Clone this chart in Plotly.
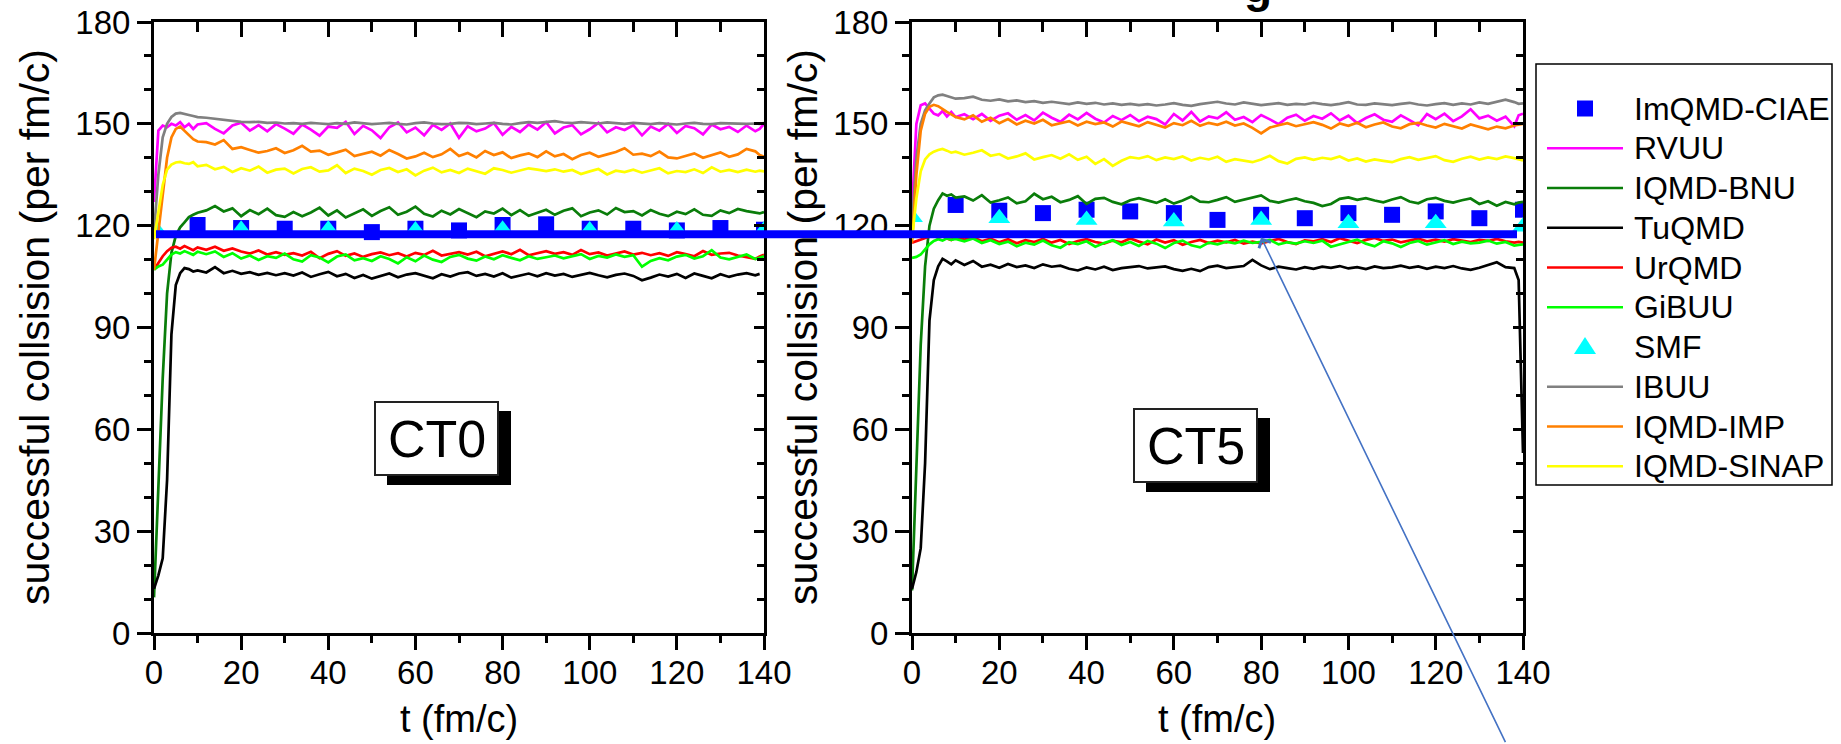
import plotly.graph_objects as go

W, H = 1841, 744
FONT = "Liberation Sans, Arial, sans-serif"

# time grid (fm/c)
t = list(range(0, 11)) + list(range(12, 139, 2)) + [139, 140]

# ---------------- CT0 ----------------
ct0_rvuu = [127, 148, 149.5, 149, 150, 149.5, 150.5, 149, 150, 148.5, 149.8,
            150.2, 148.5, 147.2, 149.5, 150.3, 148.0, 149.6, 147.8, 149.9, 148.6,
            147.1, 149.8, 148.3, 146.5, 149.2, 148.8, 150.6, 147.0, 149.4, 148.1,
            145.8, 149.0, 150.4, 147.5, 148.9, 146.6, 149.7, 148.2, 150.1, 145.9,
            149.3, 147.8, 148.6, 150.2, 146.8, 149.1, 147.6, 149.8, 148.3, 150.5,
            147.2, 148.9, 149.6, 146.9, 148.4, 150.3, 147.5, 149.0, 148.2, 149.6,
            146.6, 149.2, 148.0, 150.0, 147.3, 149.4, 148.7, 146.9, 149.8, 148.4,
            149.1, 147.6, 149.5, 147.8,
            148.5, 150.0]
ct0_bnu = [10.5, 45, 75, 100, 112, 117, 119.5, 121, 122.5, 123.2, 123.8,
           124.5, 125.8, 124.2, 125.1, 122.8, 124.6, 123.4, 125.0, 123.1, 122.6,
           124.0, 122.8, 123.9, 125.3, 123.0, 124.5, 122.4, 123.7, 124.8, 122.9,
           124.3, 125.4, 123.2, 124.1, 125.6, 123.5, 122.7, 124.4, 123.3, 124.9,
           123.8, 122.5, 124.2, 123.6, 125.0, 123.1, 124.6, 122.9, 123.8, 124.7,
           123.2, 124.4, 125.1, 122.8, 123.9, 124.5, 123.3, 125.2, 124.0, 124.3,
           123.0, 124.6, 123.5, 122.8, 124.1, 123.4, 124.8, 123.2, 122.9, 124.5,
           123.7, 124.9, 124.3, 123.8,
           123.6, 124.0]
ct0_tuqmd = [13, 17, 22, 45, 88, 102.5, 106, 107.5, 107.2, 106.5, 106.8,
             106.2, 107.8, 106.0, 106.7, 105.8, 106.3, 105.5, 106.1, 105.4, 106.0,
             105.3, 106.2, 104.9, 105.7, 106.4, 105.1, 105.8, 104.6, 105.5, 104.4,
             105.2, 105.9, 104.8, 105.6, 106.0, 105.3, 104.5, 105.7, 105.0, 105.9,
             106.3, 105.2, 105.8, 105.0, 106.0, 104.7, 105.4, 105.9, 105.1, 106.0,
             105.3, 105.8, 104.9, 105.6, 106.1, 105.4, 104.8, 105.5, 105.9, 105.2,
             103.9, 104.7, 105.6, 105.0, 105.8, 104.6, 105.9, 105.2, 104.5, 105.7,
             104.9, 105.6, 106.0, 105.4,
             105.8, None]
ct0_urqmd = [107, 109, 111, 112.5, 113.5, 113.8, 113.2, 114.0, 113.5, 112.8, 113.6,
             112.9, 113.8, 112.6, 113.3, 112.4, 111.8, 112.7, 111.5, 112.2, 111.4,
             111.9, 111.2, 112.3, 110.4, 111.7, 112.5, 111.1, 111.8, 110.8, 111.6,
             112.1, 111.3, 111.9, 110.9, 112.0, 111.4, 112.6, 111.2, 111.7, 112.2,
             111.5, 112.3, 111.0, 111.8, 112.4, 111.6, 112.9, 111.3, 111.9, 112.5,
             111.7, 112.2, 111.4, 112.8, 111.6, 112.1, 111.2, 111.8, 112.4, 111.5,
             112.0, 111.3, 111.9, 111.1, 112.2, 111.6, 111.0, 112.5, 111.4, 111.8,
             112.0, 111.2, 110.6, 110.2,
             110.9, 111.4]
ct0_gibuu = [107, 108, 108.5, 110, 111.5, 112.2, 111.8, 112.5, 112.0, 111.4, 112.3,
             111.6, 112.4, 110.8, 111.9, 110.3, 111.2, 109.9, 111.0, 110.5, 111.8,
             110.1, 109.4, 111.3, 110.6, 109.2, 110.9, 111.5, 109.8, 110.4, 109.6,
             111.0, 110.2, 108.9, 110.7, 109.5, 111.2, 110.0, 109.3, 110.8, 111.4,
             110.3, 109.7, 110.9, 110.1, 111.3, 110.5, 109.8, 111.0, 110.2, 110.7,
             111.2, 110.4, 110.9, 111.6, 110.2, 111.1, 110.6, 111.5, 110.8, 111.3,
             107.9, 109.6, 110.4, 109.8, 110.9, 111.4, 110.3, 111.0, 112.8, 110.6,
             110.1, 110.8, 111.5, 110.2,
             110.6, 111.0]
ct0_ibuu = [118, 135, 146, 150, 152, 153, 153.2, 153, 152.6, 152.3, 152,
            151.8, 151.5, 151.2, 150.8, 150.6, 150.5, 150.6, 150.3, 150.4, 150.1,
            150.2, 150.0, 150.3, 150.1, 149.9, 150.2, 150.0, 150.4, 150.1, 149.9,
            150.1, 150.3, 150.0, 149.8, 150.2, 150.4, 150.1, 149.9, 150.0, 150.3,
            150.2, 149.9, 150.1, 150.3, 150.0, 149.8, 150.2, 150.5, 150.3, 150.6,
            150.8, 150.4, 150.2, 150.5, 150.3, 150.1, 150.4, 150.2, 150.0, 150.3,
            150.1, 149.9, 150.2, 150.0, 149.8, 150.1, 150.3, 150.0, 149.9, 150.2,
            150.1, 149.9, 150.0, 150.1,
            150.0, 150.2]
ct0_imp = [107, 118, 130, 140, 146, 148.5, 149.2, 148, 146.5, 145.5, 144.8,
           144.6, 143.9, 145.2, 142.6, 143.1, 142.3, 141.5, 142.0, 142.8, 141.4,
           142.2, 143.5, 141.8, 142.1, 140.9, 141.6, 142.4, 140.5, 141.2, 141.8,
           140.6, 142.3, 141.1, 139.8, 140.4, 141.5, 140.2, 141.0, 142.6, 140.5,
           141.4, 140.1, 142.0, 140.8, 141.6, 139.9, 140.7, 141.3, 140.2, 141.9,
           140.4, 141.1, 139.6, 140.8, 141.5, 140.3, 141.0, 141.7, 142.8, 140.9,
           141.2, 140.5, 141.8, 140.1, 139.8, 140.6, 141.3, 140.0, 140.9, 141.6,
           140.3, 141.0, 142.6, 141.9,
           140.8, 140.3]
ct0_sinap = [116, 124, 132, 136.5, 138, 138.6, 138.8, 138.4, 138.2, 138.7, 137.5,
             137.9, 136.6, 137.3, 135.8, 136.9, 136.2, 137.4, 135.6, 136.5, 136.8,
             135.4, 136.7, 137.2, 135.9, 136.3, 137.8, 135.5, 136.8, 136.1, 135.0,
             136.4, 137.0, 135.8, 136.6, 134.8, 136.2, 137.1, 135.7, 136.4, 135.5,
             136.8, 136.0, 135.3, 136.9, 136.4, 135.6, 136.3, 136.9, 136.5, 136.1,
             136.6, 135.9, 136.4, 135.2, 136.0, 136.7, 135.1, 136.2, 135.8, 136.5,
             135.6, 136.3, 136.9, 135.4, 136.1, 135.8, 136.6, 135.5, 137.2, 135.9,
             136.4, 135.8, 136.5, 135.9,
             136.2, 136.0]

# ---------------- CT5 ----------------
ct5_rvuu = [125, 150, 155.5, 156, 154.5, 153, 152.5, 153.8, 152.2, 153.5, 152.0,
            152.8, 151.4, 152.9, 150.9, 152.4, 153.1, 151.2, 152.6, 151.0, 153.3,
            151.8, 150.6, 152.7, 151.3, 153.2, 151.5, 150.4, 152.3, 151.1, 152.6,
            150.8, 152.1, 151.4, 149.8, 152.9, 151.0, 153.5, 150.7, 152.2, 151.6,
            153.4, 151.2, 152.0, 150.5, 152.6, 151.3, 149.9, 151.8, 152.7, 150.9,
            152.3, 151.5, 153.1, 151.0, 152.4, 150.2, 151.7, 152.8, 151.2, 150.6,
            152.5, 151.1, 149.6, 152.9, 151.4, 153.0, 150.8, 152.2, 154.3, 151.6,
            152.4, 150.9, 152.1, 149.3,
            152.5, 153.0]
ct5_bnu = [12.5, 50, 85, 108, 120, 125, 127.5, 129.5, 128.8, 129.2, 128.3,
           128.6, 127.4, 129.0, 126.8, 127.5, 128.3, 126.6, 127.2, 129.4, 127.8,
           128.5, 126.9, 127.6, 128.7, 126.4, 127.9, 128.2, 127.0, 126.3, 127.5,
           128.1, 127.3, 126.7, 127.8, 126.5, 127.4, 128.6, 127.1, 126.9, 127.6,
           128.4, 127.0, 127.7, 128.2, 128.9, 127.3, 126.8, 127.5, 128.0, 127.2,
           126.7, 125.8, 126.4, 127.9, 128.3, 127.6, 128.1, 127.4, 126.9, 127.7,
           128.4, 127.1, 126.6, 127.8, 128.2, 127.3, 126.8, 127.5, 128.0, 126.4,
           127.2, 125.9, 127.0, 126.3,
           126.8, 127.0]
ct5_tuqmd = [13, 18, 25, 50, 92, 104, 108, 110.2, 109.5, 108.6, 109.8,
             108.4, 109.6, 107.9, 108.5, 107.6, 108.7, 107.8, 108.3, 107.5, 108.6,
             107.9, 108.2, 107.3, 106.8, 107.7, 107.1, 107.9, 106.9, 107.5, 107.8,
             108.1, 107.4, 107.6, 108.0, 107.2, 106.7, 107.3, 106.6, 107.8, 108.2,
             107.5, 107.9, 108.1, 109.9, 108.3, 107.2, 107.9, 107.5, 107.1, 107.8,
             107.3, 107.9, 107.6, 108.1, 107.4, 107.8, 107.2, 108.0, 107.5, 107.7,
             108.2, 107.6, 108.0, 107.3, 107.9, 107.5, 108.1, 107.4, 107.0, 107.6,
             108.4, 109.2, 107.8, 107.5,
             104, 53]
ct5_urqmd = [115, 115.5, 116, 116.5, 116.8, 117.0, 116.4, 116.9, 116.2, 115.8, 116.5,
             115.9, 116.6, 115.4, 116.2, 115.1, 116.0, 114.8, 115.7, 115.2, 116.1,
             115.0, 115.8, 114.6, 115.5, 116.0, 115.2, 114.7, 115.6, 115.1, 116.2,
             115.3, 114.5, 115.9, 115.0, 115.7, 114.4, 115.2, 115.8, 114.9, 115.6,
             115.1, 115.8, 114.7, 115.3, 114.8, 115.5, 116.1, 115.2, 114.6, 115.7,
             115.4, 116.0, 115.2, 116.3, 115.6, 114.9, 115.8, 116.4, 115.5, 115.9,
             115.1, 115.7, 116.2, 115.4, 115.9, 115.3, 116.0, 115.6, 115.2, 115.8,
             115.5, 116.1, 115.4, 115.0,
             115.2, 115.0]
ct5_gibuu = [110.5, 110.8, 111.5, 113, 114.5, 115.5, 116.0, 115.6, 116.3, 115.8, 116.1,
             115.4, 116.2, 114.9, 115.7, 114.6, 115.3, 113.9, 115.0, 114.4, 115.6,
             114.2, 113.5, 115.1, 114.6, 115.4, 113.8, 114.9, 115.7, 114.3, 115.2,
             114.0, 115.5, 114.7, 113.4, 114.9, 115.6, 114.2, 113.6, 115.0, 114.5,
             115.3, 114.8, 115.6, 114.9, 115.2, 115.8, 114.5, 115.1, 114.7, 115.4,
             114.9, 115.6, 113.8, 114.6, 115.2, 115.9, 114.7, 113.9, 115.4, 114.8,
             113.7, 114.9, 115.5, 114.4, 115.1, 115.7, 114.6, 115.3, 114.8, 115.0,
             115.6, 114.7, 115.2, 114.1,
             114.3, 114.5]
ct5_ibuu = [120, 140, 150, 154, 156, 157.8, 158.4, 158.6, 158.2, 157.9, 157.4,
            157.6, 158.0, 157.1, 156.8, 157.2, 156.6, 156.9, 156.4, 156.7, 156.2,
            156.5, 156.1, 155.8, 156.3, 155.9, 156.2, 155.7, 156.0, 155.6, 155.9,
            155.5, 155.8, 155.4, 155.7, 156.1, 155.6, 155.3, 155.8, 156.2, 156.5,
            156.0, 155.7, 156.3, 155.9, 155.5, 155.8, 156.1, 155.6, 155.9, 155.7,
            156.2, 155.8, 155.5, 155.9, 156.4, 155.7, 155.6, 156.0, 155.8, 155.5,
            155.9, 156.2, 155.7, 155.4, 155.8, 156.1, 155.6, 156.0, 155.7, 156.3,
            155.9, 156.6, 157.1, 156.4,
            155.9, 156.0]
ct5_imp = [115, 135, 148, 153, 155, 155.6, 155.2, 154.3, 153.5, 152.8, 152.0,
           151.3, 152.5, 150.6, 151.8, 150.2, 151.4, 149.8, 150.9, 150.1, 151.2,
           149.6, 150.3, 150.8, 149.5, 150.6, 149.9, 150.4, 149.2, 150.7, 150.0,
           149.3, 150.5, 149.8, 148.9, 150.2, 149.6, 150.9, 149.4, 150.3, 149.7,
           150.6, 149.5, 150.1, 148.8, 147.2, 148.9, 149.6, 150.2, 149.3, 150.0,
           150.5, 149.7, 148.6, 150.1, 149.4, 150.3, 149.0, 149.8, 150.4, 149.2,
           148.7, 149.9, 150.3, 149.5, 148.9, 150.0, 149.4, 148.6, 149.8, 149.1,
           148.4, 149.2, 148.7, 149.5,
           149.8, 150.0]
ct5_sinap = [116, 128, 136, 139.5, 141, 141.8, 142.3, 142.6, 142.1, 141.5, 141.8,
             140.9, 141.5, 142.2, 140.6, 141.1, 139.8, 140.4, 141.3, 139.5, 140.2,
             140.8, 139.7, 141.0, 139.4, 140.3, 138.2, 139.6, 137.6, 139.1, 140.2,
             139.8, 140.5, 139.3, 140.1, 139.6, 140.4, 139.2, 140.0, 139.5, 140.3,
             138.8, 139.6, 139.1, 138.7, 139.5, 140.6, 139.0, 138.3, 139.7, 140.1,
             139.4, 140.0, 139.6, 140.4, 139.2, 139.8, 138.9, 139.5, 139.1, 138.7,
             139.6, 140.2, 139.4, 139.9, 140.5, 139.3, 138.8, 139.7, 140.3, 139.5,
             140.1, 139.6, 140.4, 139.9,
             139.5, 139.2]

# symbol series
t_ciae = [10, 20, 30, 40, 50, 60, 70, 80, 90, 100, 110, 120, 130, 140]
ct0_ciae = [120.2, 119.3, 119.1, 119.1, 118.1, 119.1, 118.6, 120.2, 120.4, 119.1, 119.1, 118.6, 119.3, 118.8]
ct5_ciae = [126.1, 124.4, 123.7, 124.7, 124.2, 123.7, 121.7, 123.2, 122.2, 123.7, 123.2, 124.2, 122.2, 124.7]
t_smf = [0, 20, 40, 60, 80, 100, 120, 140]
ct0_smf = [119.5, 118.8, 118.8, 118.6, 118.8, 118.6, 118.6, 118.6]
ct5_smf = [122.5, 122.2, 121.7, 121.2, 121.7, 120.7, 120.7, 119.7]

# reference level drawn across both panels, and the point it is marked at
ref_level = 117.5
arrow_t, arrow_val = 80, 116.5

panel_labels = ["CT0", "CT5"]
y_title = "successful collsision (per fm/c)"
x_title = "t (fm/c)"

# (name, colour, kind, CT0 data, CT5 data)
series = [
    ("ImQMD-CIAE", "#0000FF", "square", ct0_ciae, ct5_ciae),
    ("RVUU", "#FF00FF", "line", ct0_rvuu, ct5_rvuu),
    ("IQMD-BNU", "#0A7D0A", "line", ct0_bnu, ct5_bnu),
    ("TuQMD", "#000000", "line", ct0_tuqmd, ct5_tuqmd),
    ("UrQMD", "#FF0000", "line", ct0_urqmd, ct5_urqmd),
    ("GiBUU", "#00FF00", "line", ct0_gibuu, ct5_gibuu),
    ("SMF", "#00FFFF", "triangle", ct0_smf, ct5_smf),
    ("IBUU", "#808080", "line", ct0_ibuu, ct5_ibuu),
    ("IQMD-IMP", "#FF8000", "line", ct0_imp, ct5_imp),
    ("IQMD-SINAP", "#FFFF00", "line", ct0_sinap, ct5_sinap),
]


def px(x):
    return x / W


def py(y):
    return 1 - y / H


fig = go.Figure()

panels = [("x", "y"), ("x2", "y2")]
for p, (xa, ya) in enumerate(panels):
    for name, color, kind, d0, d5 in series:
        vals = d0 if p == 0 else d5
        if kind == "line":
            fig.add_trace(go.Scatter(x=t, y=vals, mode="lines", name=name,
                                     line=dict(color=color, width=2.7),
                                     xaxis=xa, yaxis=ya, showlegend=False))
        elif kind == "square":
            fig.add_trace(go.Scatter(x=t_ciae, y=vals, mode="markers", name=name,
                                     marker=dict(symbol="square", size=16, color=color),
                                     xaxis=xa, yaxis=ya, showlegend=False))
        else:
            fig.add_trace(go.Scatter(x=t_smf, y=vals, mode="markers", name=name,
                                     marker=dict(symbol="triangle-up", size=19, color=color),
                                     xaxis=xa, yaxis=ya, showlegend=False))

# empty traces so the mirrored (top/right) frame axes exist
for xa, ya in [("x3", "y3"), ("x4", "y4")]:
    fig.add_trace(go.Scatter(x=[None], y=[None], xaxis=xa, yaxis=ya,
                             showlegend=False, hoverinfo="skip"))

xdoms = [[px(154), px(764)], [px(912), px(1523)]]
ydom = [py(633), py(22)]
tickfont = dict(family=FONT, size=33, color="black")


def bottom_x(dom, anchor):
    return dict(domain=dom, anchor=anchor, range=[0, 140], tickmode="linear", tick0=0, dtick=20,
                ticks="outside", ticklen=14, tickwidth=3, tickcolor="black",
                showline=True, linewidth=3, linecolor="black", showgrid=False, zeroline=False,
                tickfont=tickfont, automargin=False, ticklabelstandoff=-6,
                minor=dict(tick0=0, dtick=10, ticks="outside", ticklen=7, tickwidth=2.5,
                           tickcolor="black", showgrid=False))


def left_y(dom, anchor):
    return dict(domain=dom, anchor=anchor, range=[0, 180], tickmode="linear", tick0=0, dtick=30,
                ticks="outside", ticklen=14, tickwidth=3, tickcolor="black",
                showline=True, linewidth=3, linecolor="black", showgrid=False, zeroline=False,
                tickfont=tickfont, automargin=False,
                minor=dict(tick0=0, dtick=10, ticks="outside", ticklen=7, tickwidth=2.5,
                           tickcolor="black", showgrid=False))


def top_x(dom, over, anchor):
    return dict(domain=dom, overlaying=over, anchor=anchor, side="top", range=[0, 140],
                tickmode="linear", tick0=0, dtick=20, ticks="inside", ticklen=15, tickwidth=3,
                tickcolor="black", showticklabels=False, showline=True, linewidth=3,
                linecolor="black", showgrid=False, zeroline=False, automargin=False,
                minor=dict(tick0=0, dtick=10, ticks="inside", ticklen=10, tickwidth=2.5,
                           tickcolor="black", showgrid=False))


def right_y(dom, over, anchor):
    return dict(domain=dom, overlaying=over, anchor=anchor, side="right", range=[0, 180],
                tickmode="linear", tick0=0, dtick=30, ticks="inside", ticklen=10, tickwidth=3,
                tickcolor="black", showticklabels=False, showline=True, linewidth=3,
                linecolor="black", showgrid=False, zeroline=False, automargin=False,
                minor=dict(tick0=0, dtick=10, ticks="inside", ticklen=7, tickwidth=2.5,
                           tickcolor="black", showgrid=False))


shapes = []
annotations = []

# reference level across both panels
shapes.append(dict(type="line", xref="paper", yref="y", x0=px(156), x1=px(1517),
                   y0=ref_level, y1=ref_level, line=dict(color="#0000FF", width=8)))

# panel label boxes with drop shadow
box_pos = [(375, 402), (1134, 409)]
for label, (bx, by) in zip(panel_labels, box_pos):
    shapes.append(dict(type="rect", xref="paper", yref="paper",
                       x0=px(bx + 12), x1=px(bx + 136), y0=py(by + 9), y1=py(by + 83),
                       fillcolor="black", line=dict(width=0)))
    shapes.append(dict(type="rect", xref="paper", yref="paper",
                       x0=px(bx), x1=px(bx + 123), y0=py(by), y1=py(by + 73),
                       fillcolor="white", line=dict(color="#222222", width=2)))
    annotations.append(dict(text=label, xref="paper", yref="paper",
                            x=px(bx + 61.5), y=py(by + 37), xanchor="center", yanchor="middle",
                            showarrow=False, font=dict(family=FONT, size=52, color="black")))

# axis titles
for cx_axis, cx_title in [(459, 35), (1217, 803)]:
    annotations.append(dict(text=x_title, xref="paper", yref="paper", x=px(cx_axis), y=py(719),
                            xanchor="center", yanchor="middle", showarrow=False,
                            font=dict(family=FONT, size=38, color="black")))
    annotations.append(dict(text=y_title, xref="paper", yref="paper", x=px(cx_title), y=py(327),
                            xanchor="center", yanchor="middle", textangle=-90, showarrow=False,
                            font=dict(family=FONT, size=41, color="black")))

# pointer arrow
annotations.append(dict(text="", x=arrow_t, y=arrow_val, xref="x2", yref="y2",
                        ax=245, ay=506, axref="pixel", ayref="pixel", showarrow=True,
                        arrowhead=4, arrowsize=1.6, arrowwidth=1.6, arrowcolor="#4472C4"))

# heading (clipped at the top edge)
annotations.append(dict(text="<b>g</b>", xref="paper", yref="paper", x=px(1258), y=1,
                        xanchor="center", yanchor="bottom", yshift=-14, showarrow=False,
                        font=dict(family=FONT, size=46, color="black")))

# legend
lg_left, lg_top, lg_right, lg_bottom = 1536, 64, 1832, 485
shapes.append(dict(type="rect", xref="paper", yref="paper", x0=px(lg_left), x1=px(lg_right),
                   y0=py(lg_top), y1=py(lg_bottom), fillcolor="white",
                   line=dict(color="black", width=1.5)))
for i, (name, color, kind, _, _) in enumerate(series):
    cy = 108.5 + 39.75 * i
    if kind == "line":
        shapes.append(dict(type="line", xref="paper", yref="paper", x0=px(1547), x1=px(1623),
                           y0=py(cy), y1=py(cy), line=dict(color=color, width=2.7)))
    elif kind == "square":
        shapes.append(dict(type="rect", xref="paper", yref="paper", x0=px(1577), x1=px(1593),
                           y0=py(cy - 8), y1=py(cy + 8), fillcolor=color, line=dict(width=0)))
    else:
        path = "M{},{} L{},{} L{},{} Z".format(px(1574), py(cy + 7), px(1596), py(cy + 7),
                                              px(1585), py(cy - 10))
        shapes.append(dict(type="path", xref="paper", yref="paper", path=path,
                           fillcolor=color, line=dict(width=0)))
    annotations.append(dict(text=name, xref="paper", yref="paper", x=px(1632), y=py(cy),
                            xanchor="left", yanchor="middle", showarrow=False,
                            font=dict(family=FONT, size=32, color="black")))

fig.update_layout(
    width=W, height=H,
    margin=dict(l=0, r=0, t=0, b=0),
    paper_bgcolor="white", plot_bgcolor="rgba(0,0,0,0)",
    showlegend=False,
    font=dict(family=FONT, color="black"),
    xaxis=bottom_x(xdoms[0], "y"),
    yaxis=left_y(ydom, "x"),
    xaxis2=bottom_x(xdoms[1], "y2"),
    yaxis2=left_y(ydom, "x2"),
    xaxis3=top_x(xdoms[0], "x", "y"),
    yaxis3=right_y(ydom, "y", "x"),
    xaxis4=top_x(xdoms[1], "x2", "y2"),
    yaxis4=right_y(ydom, "y2", "x2"),
    shapes=shapes,
    annotations=annotations,
)

fig.write_html("out.html")
